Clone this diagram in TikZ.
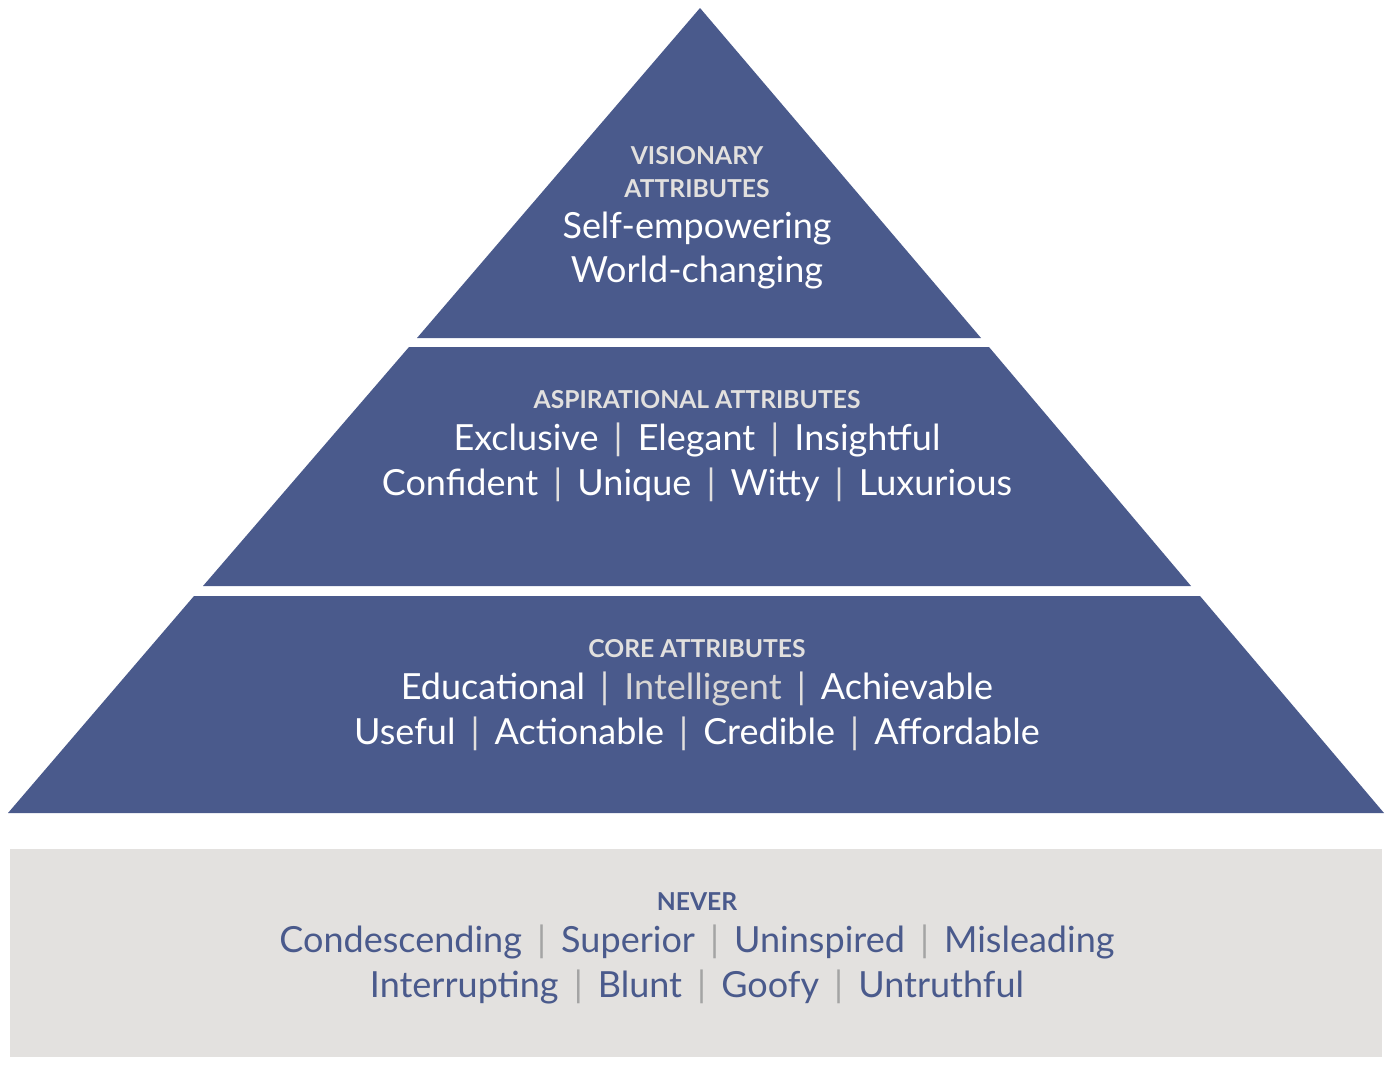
\documentclass[tikz,border=0pt]{standalone}
\usepackage{fontspec}
\setmainfont{Lato}
\definecolor{pyrblue}{HTML}{4A5A8C}
\definecolor{nevergray}{HTML}{E3E1DF}
\definecolor{headgray}{HTML}{E2E0DE}
\definecolor{sepgray}{HTML}{A4A4A4}
\definecolor{dimwhite}{HTML}{D8D6D4}
\newcommand{\sepbar}[1]{\hspace{0.42em}\textcolor{#1}{|}\hspace{0.42em}}

\begin{document}
\begin{tikzpicture}[x=0.75pt,y=0.75pt,yscale=-1,xscale=1,
  tier/.style={fill=pyrblue, draw=none},
  head/.style={font=\fontsize{18.5}{20}\selectfont\bfseries, text=headgray, inner sep=0pt},
  word/.style={font=\fontsize{27}{30}\selectfont, text=white, inner sep=0pt},
  neverhead/.style={head, text=pyrblue},
  neverword/.style={word, text=pyrblue}]
\useasboundingbox (0,0) rectangle (1394,1064);

%Tiers
\fill[tier] (700,8) -- (981,338) -- (417,338) -- cycle;
\fill[tier] (409,347) -- (989,347) -- (1191,586) -- (203,586) -- cycle;
\fill[tier] (194,596) -- (1200,596) -- (1384,813) -- (8,813) -- cycle;
%Never box
\fill[nevergray] (10,849) rectangle (1382,1057);

% Text Node
\node[head] (vishead1) at (697,156) {VISIONARY};
% Text Node
\node[head] (vishead2) at (697,189) {ATTRIBUTES};
% Text Node
\node[word] (visline1) at (697,229) {Self-empowering};
% Text Node
\node[word] (visline2) at (697,273) {World-changing};

% Text Node
\node[head] (asphead) at (697,400) {ASPIRATIONAL ATTRIBUTES};
% Text Node
\node[word] (aspline1) at (697,440) {Exclusive\sepbar{headgray}Elegant\sepbar{headgray}Insightful};
% Text Node
\node[word] (aspline2) at (697,485) {Confident\sepbar{headgray}Unique\sepbar{headgray}Witty\sepbar{headgray}Luxurious};

% Text Node
\node[head] (corehead) at (697,649) {CORE ATTRIBUTES};
% Text Node
\node[word] (coreline1) at (697,689) {Educational\sepbar{headgray}\textcolor{dimwhite}{Intelligent}\sepbar{headgray}Achievable};
% Text Node
\node[word] (coreline2) at (697,734) {Useful\sepbar{headgray}Actionable\sepbar{headgray}Credible\sepbar{headgray}Affordable};

% Text Node
\node[neverhead] (neverhead) at (697,902) {NEVER};
% Text Node
\node[neverword] (neverline1) at (697,942) {Condescending\sepbar{sepgray}Superior\sepbar{sepgray}Uninspired\sepbar{sepgray}Misleading};
% Text Node
\node[neverword] (neverline2) at (697,987) {Interrupting\sepbar{sepgray}Blunt\sepbar{sepgray}Goofy\sepbar{sepgray}Untruthful};

\end{tikzpicture}
\end{document}
